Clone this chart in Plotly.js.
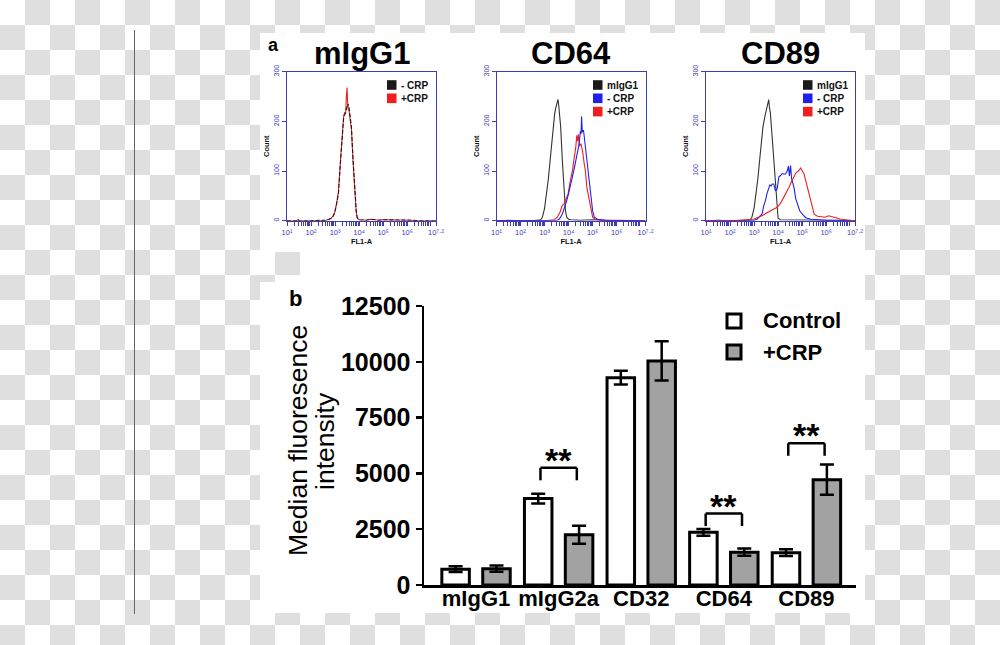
<!DOCTYPE html>
<html>
<head>
<meta charset="utf-8">
<script src="https://cdn.plot.ly/plotly-3.0.1.min.js"></script>
<style>
  html, body { margin: 0; padding: 0; }
  body {
    width: 1000px; height: 645px; overflow: hidden;
    background: repeating-conic-gradient(#dfdfdf 0 25%, #ffffff 0 50%) 0 0 / 50px 50px;
  }
  #chart { width: 1000px; height: 645px; }
</style>
</head>
<body>
<div id="chart"></div>
<script>
// ---------------- DATA ----------------
// Panel a: flow cytometry histograms (x = FL1-A in log10 decades, y = count)
const igg1_x      = [1.0, 1.4, 1.45, 1.5, 2.0, 2.5, 2.63, 2.75, 2.84, 2.92, 2.98, 3.05, 3.14, 3.23, 3.30, 3.36, 3.41, 3.44, 3.47, 3.50, 3.52, 3.54, 3.58, 3.61, 3.68, 3.75, 3.82, 3.88, 3.92, 3.97, 4.03, 4.3, 4.5, 4.6, 4.8, 5.0, 5.1, 5.3, 5.9, 6.0, 6.1, 6.5, 7.2];
const igg1_minus  = [0, 0, 3, 0, 0, 0, 1, 3, 5, 9, 15, 30, 54, 121, 170, 209, 215, 222, 226, 230, 228, 235, 228, 215, 189, 121, 54, 20, 7, 3, 2, 1, 3, 2, 1, 2, 2, 1, 1, 2, 1, 0, 0];
const igg1_plus   = [0, 0, 2, 0, 0, 0, 1, 3, 5, 10, 16, 32, 58, 125, 175, 212, 218, 215, 250, 268, 240, 226, 222, 210, 185, 118, 50, 18, 6, 3, 2, 1, 3, 2, 1, 2, 2, 1, 1, 1, 1, 0, 0];

const cd64_iso_x  = [1.0, 1.5, 2.0, 2.5, 2.84, 2.91, 3.0, 3.09, 3.16, 3.23, 3.30, 3.37, 3.42, 3.47, 3.52, 3.56, 3.59, 3.62, 3.67, 3.74, 3.81, 3.87, 3.92, 4.0, 4.09, 4.5, 5.0, 5.5, 6.0, 7.2];
const cd64_iso    = [0, 1, 0, 0, 2, 7, 25, 54, 85, 121, 160, 189, 215, 228, 236, 244, 232, 215, 189, 121, 54, 20, 7, 3, 2, 1, 2, 1, 0, 0];
const cd64_minus_x= [1.0, 2.0, 3.0, 3.53, 3.60, 3.67, 3.75, 3.83, 3.92, 4.0, 4.08, 4.16, 4.23, 4.30, 4.37, 4.44, 4.49, 4.52, 4.54, 4.57, 4.62, 4.67, 4.72, 4.77, 4.82, 4.88, 4.93, 5.0, 5.07, 5.2, 5.5, 6.0, 7.2];
const cd64_minus  = [0, 0, 0, 1, 3, 7, 15, 26, 40, 55, 70, 88, 104, 121, 138, 155, 180, 175, 210, 178, 182, 160, 135, 110, 88, 62, 40, 20, 7, 3, 1, 1, 0];
const cd64_plus_x = [1.0, 2.0, 3.0, 3.40, 3.53, 3.65, 3.73, 3.81, 3.90, 3.98, 4.05, 4.10, 4.16, 4.23, 4.30, 4.34, 4.37, 4.41, 4.45, 4.51, 4.58, 4.65, 4.70, 4.76, 4.83, 4.90, 5.0, 5.1, 5.3, 6.0, 7.2];
const cd64_plus   = [0, 0, 0, 2, 7, 18, 30, 34, 45, 54, 75, 85, 101, 125, 148, 172, 160, 174, 150, 155, 140, 115, 100, 67, 48, 27, 7, 3, 1, 1, 0];

const cd89_iso_x  = [1.0, 1.5, 2.0, 2.5, 2.84, 2.91, 3.0, 3.09, 3.16, 3.23, 3.30, 3.37, 3.45, 3.52, 3.57, 3.61, 3.64, 3.68, 3.75, 3.82, 3.87, 3.92, 4.0, 4.1, 4.5, 5.0, 5.5, 6.0, 7.2];
const cd89_iso    = [0, 1, 0, 0, 2, 7, 25, 54, 85, 121, 160, 189, 210, 225, 235, 244, 228, 216, 170, 121, 75, 40, 5, 2, 2, 1, 2, 1, 0];
const cd89_minus_x= [1.0, 2.0, 3.0, 3.12, 3.25, 3.33, 3.40, 3.47, 3.54, 3.61, 3.66, 3.71, 3.76, 3.82, 3.89, 3.96, 4.03, 4.10, 4.17, 4.24, 4.31, 4.38, 4.43, 4.47, 4.52, 4.56, 4.61, 4.66, 4.73, 4.80, 4.90, 5.01, 5.15, 5.36, 5.6, 6.0, 6.5, 7.2];
const cd89_minus  = [0, 0, 1, 3, 8, 13, 30, 40, 55, 67, 72, 70, 74, 74, 60, 64, 88, 91, 95, 94, 94, 100, 110, 90, 111, 85, 75, 67, 45, 34, 20, 13, 6, 3, 2, 1, 1, 0];
const cd89_plus_x = [1.0, 2.0, 2.98, 3.15, 3.33, 3.50, 3.68, 3.82, 3.96, 4.10, 4.24, 4.35, 4.45, 4.55, 4.66, 4.75, 4.85, 4.94, 5.01, 5.08, 5.18, 5.29, 5.40, 5.50, 5.64, 5.78, 5.95, 6.10, 6.20, 6.40, 6.61, 6.90, 7.1, 7.2];
const cd89_plus   = [0, 0, 3, 6, 10, 15, 20, 24, 27, 35, 47, 58, 67, 78, 88, 97, 100, 106, 100, 94, 75, 54, 30, 13, 9, 8, 7, 10, 9, 6, 3, 2, 1, 0];

const histTitles   = ['mIgG1', 'CD64', 'CD89'];
const decadeTicks  = [1, 2, 3, 4, 5, 6, 7.2];
const decadeLabels = ['10¹', '10²', '10³', '10⁴', '10⁵', '10⁶', '10⁷·²'];
const countTicks   = [0, 100, 200, 300];

// Panel b: median fluorescence intensity
const categories  = ['mIgG1', 'mIgG2a', 'CD32', 'CD64', 'CD89'];
const controlMean = [710, 3870, 9290, 2360, 1450];
const controlErr  = [130, 220, 310, 150, 150];
const crpMean     = [730, 2250, 10040, 1470, 4720];
const crpErr      = [140, 400, 880, 160, 680];
const sigLevel    = [null, 5250, null, 3200, 6350];
const sigLabel    = ['', '**', '', '**', '**'];
const mfiTicks    = [0, 2500, 5000, 7500, 10000, 12500];
const mfiTitle    = ['Median fluoresence', 'intensity'];

// ---------------- LAYOUT HELPERS ----------------
const W = 1000, H = 645;
const px = v => v / W;
const py = v => 1 - v / H;
const FONT = 'Liberation Sans, Arial, Helvetica, sans-serif';
const BLUE_AX = '#3d3db5';
const C_BLACK = '#1a1a1a', C_BLUE = '#1f1ff0', C_RED = '#f01e1e';

const minorVals = [];
for (let n = 1; n <= 7; n++) for (let k = 2; k <= 9; k++) {
  const v = n + Math.log10(k);
  if (v < 7.2) minorVals.push(v);
}

const histLeft = [287, 496.5, 706];
const histW = 149;
const histTop = 71.7, histBot = 220.7;

const traces = [];
function line(x, y, color, ax, dash) {
  traces.push({
    type: 'scatter', mode: 'lines', x: x, y: y,
    xaxis: 'x' + (ax === 1 ? '' : ax), yaxis: 'y' + (ax === 1 ? '' : ax),
    line: {color: color, width: 1.1, dash: dash || 'solid'},
    showlegend: false, hoverinfo: 'skip'
  });
}
line(igg1_x, igg1_plus, C_RED, 1);
line(igg1_x, igg1_minus, C_BLACK, 1, '4px,2px');
line(cd64_iso_x, cd64_iso, '#333333', 2);
line(cd64_plus_x, cd64_plus, C_RED, 2);
line(cd64_minus_x, cd64_minus, C_BLUE, 2);
line(cd89_iso_x, cd89_iso, '#333333', 3);
line(cd89_minus_x, cd89_minus, C_BLUE, 3);
line(cd89_plus_x, cd89_plus, C_RED, 3);

// bars
traces.push({
  type: 'bar', name: 'Control', x: categories, y: controlMean,
  xaxis: 'x4', yaxis: 'y4', width: 0.333, offset: -0.414,
  marker: {color: '#ffffff', line: {color: '#000', width: 3}},
  error_y: {type: 'data', array: controlErr, visible: true, color: '#000', thickness: 2.5, width: 7},
  showlegend: false
});
traces.push({
  type: 'bar', name: '+CRP', x: categories, y: crpMean,
  xaxis: 'x4', yaxis: 'y4', width: 0.333, offset: 0.081,
  marker: {color: '#a2a2a2', line: {color: '#000', width: 3}},
  error_y: {type: 'data', array: crpErr, visible: true, color: '#000', thickness: 2.5, width: 7},
  showlegend: false
});

const layout = {
  width: W, height: H,
  margin: {l: 0, r: 0, t: 0, b: 0},
  paper_bgcolor: 'rgba(0,0,0,0)',
  plot_bgcolor: 'rgba(0,0,0,0)',
  font: {family: FONT, color: '#000'},
  barmode: 'overlay',
  showlegend: false,
  shapes: [],
  annotations: []
};

// histogram axes
for (let i = 0; i < 3; i++) {
  const s = i === 0 ? '' : String(i + 1);
  layout['xaxis' + s] = {
    domain: [px(histLeft[i]), px(histLeft[i] + histW)],
    anchor: 'y' + s, range: [1, 7.2], fixedrange: true,
    tickmode: 'array', tickvals: decadeTicks, ticktext: decadeLabels,
    ticks: 'outside', ticklen: 4, tickwidth: 1, tickcolor: BLUE_AX,
    tickfont: {size: 7.5, color: BLUE_AX, family: FONT},
    minor: {tickmode: 'array', tickvals: minorVals, ticks: 'outside', ticklen: 4, tickwidth: 1, tickcolor: BLUE_AX, showgrid: false},
    showline: true, linecolor: BLUE_AX, linewidth: 1, mirror: true,
    showgrid: false, zeroline: false,
    title: {text: '<b>FL1-A</b>', font: {size: 7.5, color: '#111', family: FONT}, standoff: 2}
  };
  layout['yaxis' + s] = {
    domain: [py(histBot), py(histTop)],
    anchor: 'x' + s, range: [0, 300], fixedrange: true,
    tickmode: 'array', tickvals: countTicks, tickangle: -90,
    ticks: 'outside', ticklen: 4, tickwidth: 1, tickcolor: BLUE_AX,
    tickfont: {size: 7, color: BLUE_AX, family: FONT},
    showline: true, linecolor: BLUE_AX, linewidth: 1, mirror: true,
    showgrid: false, zeroline: false,
    title: {text: '<b>Count</b>', font: {size: 7.5, color: '#111', family: FONT}, standoff: 2}
  };
  layout.annotations.push({
    xref: 'paper', yref: 'paper', x: px(histLeft[i] + histW / 2), y: py(54),
    text: '<b>' + histTitles[i] + '</b>', showarrow: false,
    xanchor: 'center', yanchor: 'middle', font: {size: 31, family: FONT, color: '#000'}
  });
}

// bar chart axes
layout.xaxis4 = {
  domain: [px(424), px(856)], anchor: 'y4', type: 'category',
  categoryorder: 'array', categoryarray: categories,
  range: [-0.63, 4.6], fixedrange: true,
  showline: true, linecolor: '#000', linewidth: 2.5,
  ticks: '', showgrid: false, zeroline: false, ticklabelstandoff: -8,
  tickfont: {size: 22, family: FONT, color: '#000', weight: 'bold'}
};
layout.yaxis4 = {
  domain: [py(585), py(306)], anchor: 'x4', range: [0, 12500], fixedrange: true,
  tickmode: 'array', tickvals: mfiTicks, ticktext: mfiTicks.map(String),
  ticks: 'outside', ticklen: 6, tickwidth: 2.5, tickcolor: '#000',
  showline: true, linecolor: '#000', linewidth: 2.5,
  showgrid: false, zeroline: false,
  tickfont: {size: 25, family: FONT, color: '#000', weight: 'bold'}
};
// y-axis title (two tightly spaced lines, as in the figure)
[[mfiTitle[0], 298], [mfiTitle[1], 325]].forEach(t => {
  layout.annotations.push({
    xref: 'paper', yref: 'paper', x: px(t[1]), y: py(441), text: t[0], textangle: -90,
    showarrow: false, xanchor: 'center', yanchor: 'middle',
    font: {size: 26.5, family: FONT, color: '#000'}
  });
});

// background panels + divider line
const S = layout.shapes;
function prect(x0, y0, x1, y1, fill, lw) {
  S.push({type: 'rect', xref: 'paper', yref: 'paper', x0: px(x0), x1: px(x1), y0: py(y1), y1: py(y0),
          fillcolor: fill, line: {width: lw || 0, color: '#000'}, layer: lw ? 'above' : 'below'});
}
prect(260, 33, 865, 252, '#ffffff');
prect(300, 252, 865, 282, '#ffffff');
prect(260, 282, 865, 613, '#ffffff');
S.push({type: 'line', xref: 'paper', yref: 'paper', x0: px(134.5), x1: px(134.5), y0: py(30), y1: py(614),
        line: {color: '#666666', width: 1}, layer: 'below'});

// histogram legends (swatch + text)
const histLegends = [
  {left: 387, items: [['- CRP', C_BLACK], ['+CRP', C_RED]]},
  {left: 593, items: [['mIgG1', C_BLACK], ['- CRP', C_BLUE], ['+CRP', C_RED]]},
  {left: 803, items: [['mIgG1', C_BLACK], ['- CRP', C_BLUE], ['+CRP', C_RED]]}
];
histLegends.forEach(lg => {
  lg.items.forEach((it, j) => {
    const cy = 85 + j * 13.3;
    prect(lg.left, cy - 4.8, lg.left + 9.5, cy + 4.8, it[1]);
    S[S.length - 1].layer = 'above';
    layout.annotations.push({
      xref: 'paper', yref: 'paper', x: px(lg.left + 12), y: py(cy),
      text: '<b>' + it[0] + '</b>', showarrow: false, xanchor: 'left', yanchor: 'middle',
      font: {size: 10, family: FONT, color: '#111'}
    });
  });
});

// bar legend
const barLegend = [['Control', '#ffffff', 321], ['+CRP', '#a2a2a2', 352]];
barLegend.forEach(b => {
  prect(727, b[2] - 7, 741, b[2] + 7, b[1], 3);
  layout.annotations.push({
    xref: 'paper', yref: 'paper', x: px(761), y: py(b[2]),
    text: '<b>' + b[0] + '</b>', showarrow: false, xanchor: 'left', yanchor: 'middle',
    font: {size: 22, family: FONT, color: '#000'}
  });
});

// significance brackets
const legDrop = 560;
categories.forEach((c, i) => {
  if (sigLevel[i] == null) return;
  const yTop = sigLevel[i];
  const segs = [
    [i - 0.22, yTop - legDrop, i - 0.22, yTop],
    [i - 0.22, yTop, i + 0.22, yTop],
    [i + 0.22, yTop, i + 0.22, yTop - legDrop]
  ];
  segs.forEach(sg => S.push({type: 'line', xref: 'x4', yref: 'y4', x0: sg[0], y0: sg[1], x1: sg[2], y1: sg[3],
                             line: {color: '#000', width: 2.5}}));
  layout.annotations.push({
    xref: 'x4', yref: 'y4', x: c, y: yTop, text: '<b>' + sigLabel[i] + '</b>',
    showarrow: false, xanchor: 'center', yanchor: 'bottom', yshift: -13,
    font: {size: 34, family: FONT, color: '#000'}
  });
});

// panel letters
layout.annotations.push({xref: 'paper', yref: 'paper', x: px(266), y: py(45), text: '<b>a</b>', showarrow: false,
  xanchor: 'left', yanchor: 'middle', font: {size: 18, family: FONT, color: '#000'}});
layout.annotations.push({xref: 'paper', yref: 'paper', x: px(287), y: py(298), text: '<b>b</b>', showarrow: false,
  xanchor: 'left', yanchor: 'middle', font: {size: 22, family: FONT, color: '#000'}});

Plotly.newPlot('chart', traces, layout, {displayModeBar: false, staticPlot: true});
</script>
</body>
</html>
